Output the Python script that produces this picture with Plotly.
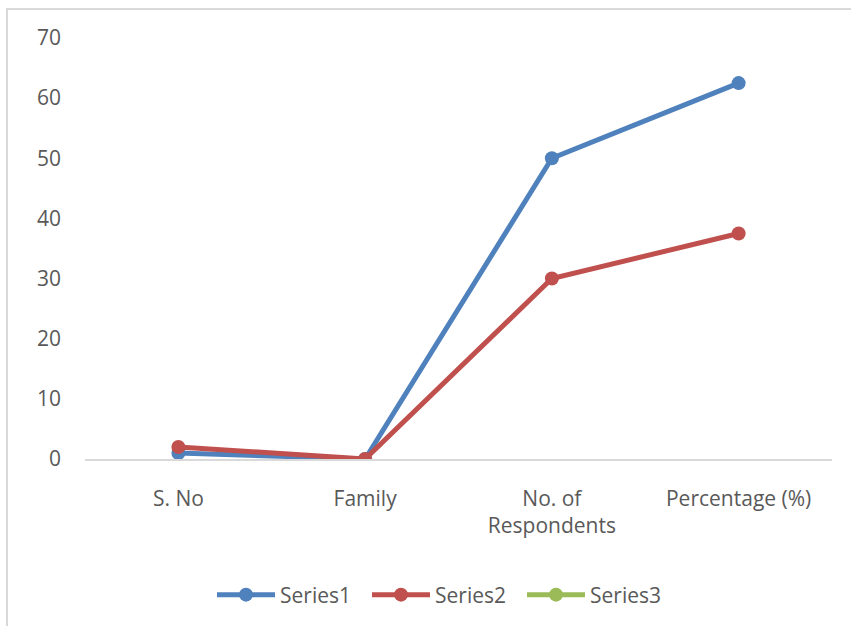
import plotly.graph_objects as go

categories = ["S. No", "Family", "No. of<br>Respondents", "Percentage (%)"]
series1 = [1, 0, 50, 62.5]
series2 = [2, 0, 30, 37.5]
series3 = [None, None, None, None]
y_ticks = [0, 10, 20, 30, 40, 50, 60, 70]

names = ["Series1", "Series2", "Series3"]
colors = ["#4F81BD", "#C0504D", "#9BBB59"]

fig = go.Figure()
for name, vals, col in zip(names, [series1, series2, series3], colors):
    fig.add_trace(go.Scatter(
        x=categories, y=vals, name=name, mode="lines+markers",
        line=dict(color=col, width=5),
        marker=dict(color=col, size=14),
        showlegend=True,
    ))

L, R, T, B = 85, 19, 38, 166
W, H = 851, 626
pw, ph = W - L - R, H - T - B

fig.update_layout(
    width=W, height=H,
    margin=dict(l=L, r=R, t=T, b=B),
    paper_bgcolor="white", plot_bgcolor="white",
    font=dict(family="Open Sans", size=21, color="#595959"),
    xaxis=dict(
        type="category", range=[-0.5, 3.5],
        showline=True, linecolor="#D9D9D9", linewidth=1.5,
        showgrid=False, zeroline=False, ticks="",
        ticklabelstandoff=20,
    ),
    yaxis=dict(
        range=[0, 70], tickvals=y_ticks,
        showline=False, showgrid=False, zeroline=False, ticks="",
        ticklabelstandoff=23,
    ),
    legend=dict(
        orientation="h", x=(212 - L) / pw, xanchor="left",
        y=-(595 - (T + ph)) / ph, yanchor="middle",
        font=dict(size=21, color="#595959"),
        itemwidth=58,
        entrywidth=82, entrywidthmode="pixels",
    ),
    shapes=[dict(
        type="rect", xref="paper", yref="paper",
        x0=(7 - L) / pw, x1=(W + 10 - L) / pw,
        y0=-(H + 10 - T - ph) / ph, y1=1 + (T - 9) / ph,
        line=dict(color="#D9D9D9", width=2), layer="below",
    )],
)

fig.write_html("out.html")
